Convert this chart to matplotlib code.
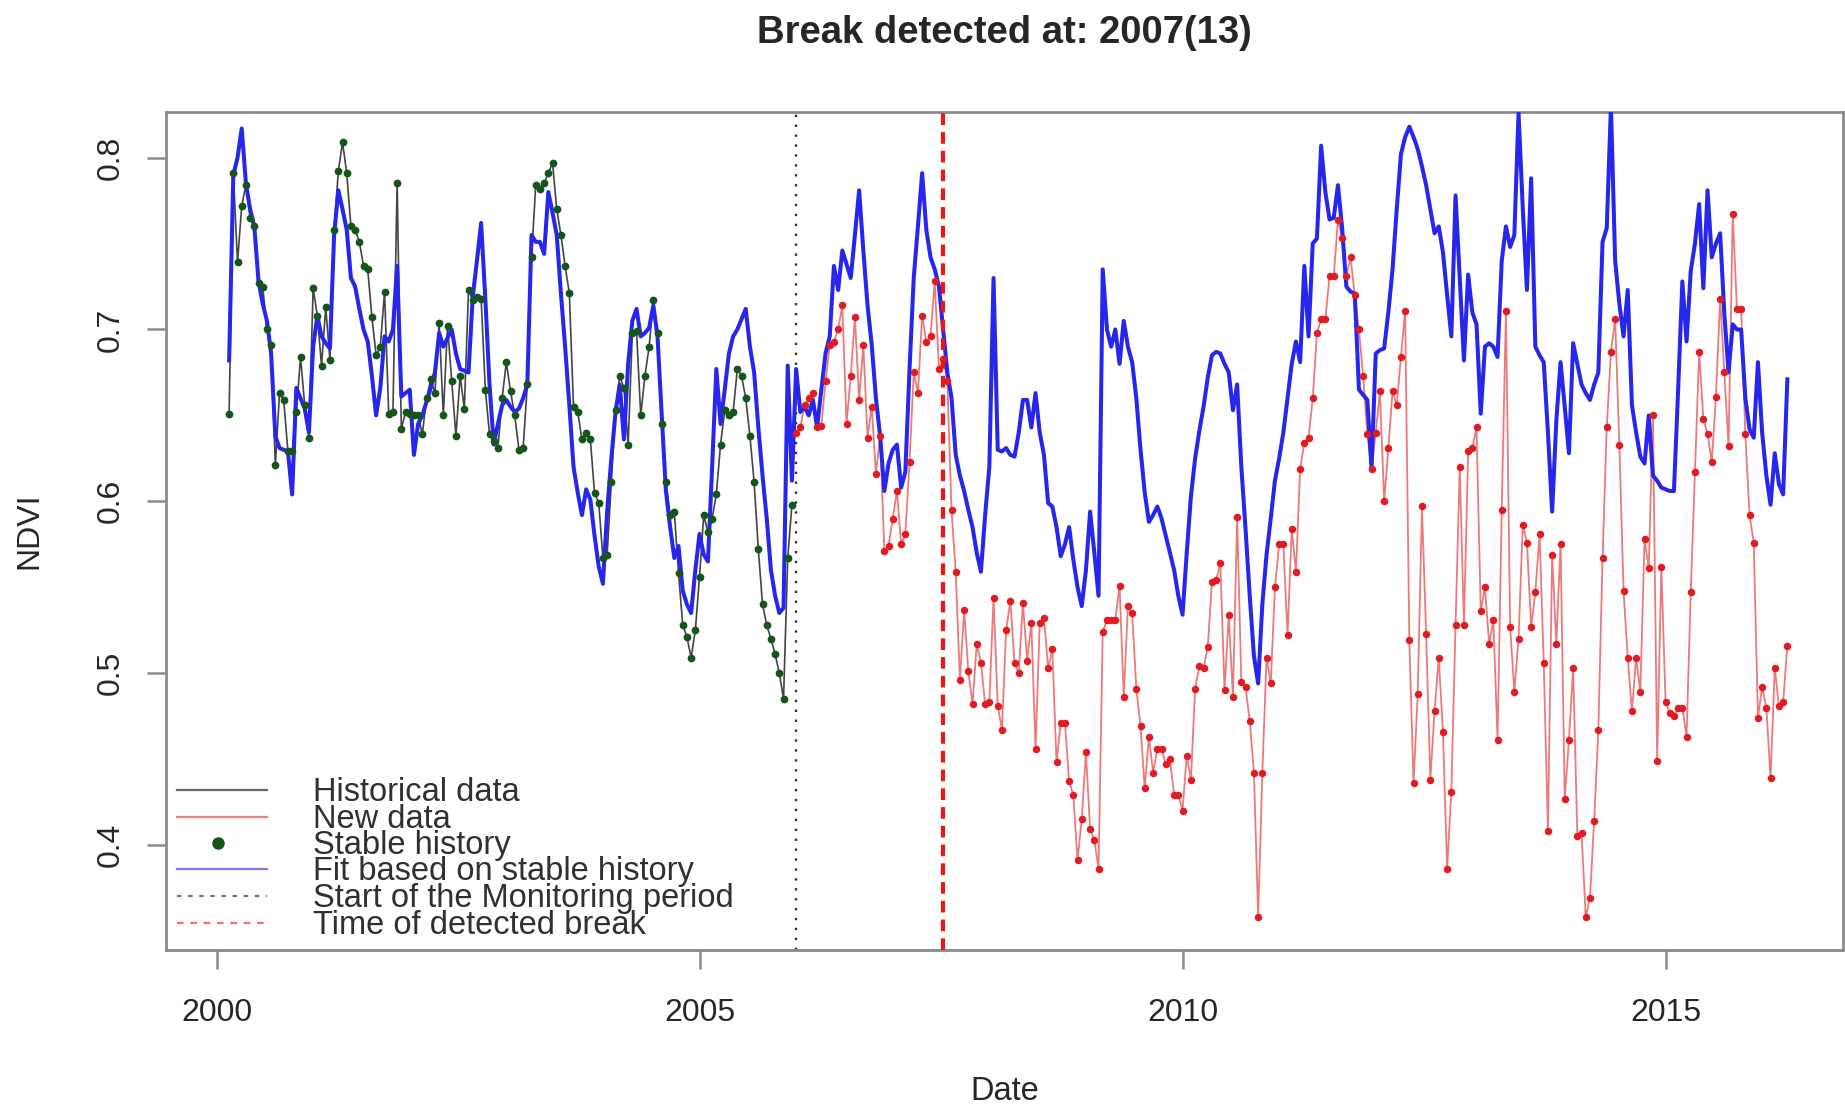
import numpy as np
import matplotlib
matplotlib.use("Agg")
import matplotlib.pyplot as plt

plt.rcParams['font.family'] = ['Liberation Sans', 'DejaVu Sans']

# 16-day NDVI series: 23 observations per year, first observation 2000(4)
freq = 23
start_year, start_period = 2000, 4
monitor_start = 2006.0
break_year, break_period = 2007, 13
title = "Break detected at: 2007(13)"

# historical period (2000(4) .. 2005(23)), all of it stable history
history = [
    0.651, 0.791, 0.739, 0.772, 0.784, 0.765, 0.760, 0.727, 0.725, 0.700,
    0.691, 0.621, 0.663, 0.659, 0.629, 0.629, 0.652, 0.684, 0.656, 0.637,
    0.724, 0.708, 0.679, 0.713, 0.682, 0.758, 0.792, 0.809, 0.791, 0.760,
    0.758, 0.751, 0.737, 0.735, 0.707, 0.685, 0.690, 0.722, 0.651, 0.652,
    0.785, 0.642, 0.652, 0.651, 0.650, 0.650, 0.639, 0.660, 0.671, 0.663,
    0.704, 0.650, 0.702, 0.670, 0.638, 0.673, 0.654, 0.723, 0.717, 0.719,
    0.718, 0.665, 0.639, 0.635, 0.631, 0.660, 0.681, 0.664, 0.650, 0.630,
    0.631, 0.668, 0.742, 0.784, 0.782, 0.785, 0.791, 0.797, 0.770, 0.755,
    0.737, 0.721, 0.655, 0.652, 0.636, 0.640, 0.636, 0.605, 0.599, 0.567,
    0.569, 0.611, 0.653, 0.673, 0.666, 0.633, 0.698, 0.699, 0.650, 0.673,
    0.690, 0.717, 0.698, 0.645, 0.611, 0.592, 0.594, 0.558, 0.528, 0.521,
    0.509, 0.525, 0.556, 0.592, 0.582, 0.590, 0.604, 0.633, 0.653, 0.650,
    0.652, 0.677, 0.673, 0.660, 0.638, 0.611, 0.572, 0.540, 0.528, 0.520,
    0.511, 0.500, 0.485, 0.567, 0.598,
]

# monitoring period (2006(1) .. 2016(7))
new_data = [
    0.640, 0.643, 0.656, 0.660, 0.663, 0.643, 0.644, 0.670, 0.691, 0.693,
    0.700, 0.714, 0.645, 0.673, 0.707, 0.659, 0.691, 0.637, 0.655, 0.616,
    0.638, 0.571, 0.574, 0.590, 0.606, 0.575, 0.581, 0.623, 0.675, 0.663,
    0.708, 0.693, 0.696, 0.728, 0.677, 0.683, 0.670, 0.595, 0.559, 0.496,
    0.537, 0.501, 0.482, 0.517, 0.506, 0.482, 0.483, 0.544, 0.481, 0.467,
    0.525, 0.542, 0.506, 0.500, 0.541, 0.507, 0.529, 0.456, 0.529, 0.532,
    0.503, 0.514, 0.448, 0.471, 0.471, 0.437, 0.429, 0.391, 0.415, 0.454,
    0.409, 0.403, 0.386, 0.524, 0.531, 0.531, 0.531, 0.551, 0.486, 0.539,
    0.535, 0.491, 0.469, 0.433, 0.463, 0.442, 0.456, 0.456, 0.447, 0.450,
    0.429, 0.429, 0.420, 0.452, 0.438, 0.491, 0.504, 0.503, 0.515, 0.553,
    0.554, 0.564, 0.490, 0.534, 0.486, 0.591, 0.495, 0.492, 0.472, 0.442,
    0.358, 0.442, 0.509, 0.494, 0.550, 0.575, 0.575, 0.522, 0.584, 0.559,
    0.619, 0.634, 0.637, 0.660, 0.698, 0.706, 0.706, 0.731, 0.731, 0.764,
    0.753, 0.731, 0.742, 0.720, 0.700, 0.673, 0.639, 0.619, 0.640, 0.664,
    0.600, 0.631, 0.664, 0.656, 0.684, 0.711, 0.519, 0.436, 0.488, 0.597,
    0.523, 0.438, 0.478, 0.509, 0.466, 0.386, 0.431, 0.528, 0.620, 0.528,
    0.629, 0.631, 0.643, 0.536, 0.550, 0.517, 0.531, 0.461, 0.595, 0.711,
    0.527, 0.489, 0.520, 0.586, 0.576, 0.527, 0.547, 0.581, 0.506, 0.408,
    0.569, 0.517, 0.575, 0.427, 0.461, 0.503, 0.405, 0.407, 0.358, 0.369,
    0.414, 0.467, 0.567, 0.643, 0.687, 0.706, 0.633, 0.548, 0.509, 0.478,
    0.509, 0.489, 0.578, 0.561, 0.650, 0.449, 0.562, 0.483, 0.477, 0.475,
    0.480, 0.480, 0.463, 0.547, 0.617, 0.687, 0.648, 0.639, 0.623, 0.661,
    0.718, 0.675, 0.632, 0.767, 0.712, 0.712, 0.639, 0.592, 0.576, 0.474,
    0.492, 0.480, 0.439, 0.503, 0.481, 0.483, 0.516,
]

# model fitted on the stable history, over the full series
fit = [
    0.682, 0.790, 0.800, 0.817, 0.785, 0.770, 0.760, 0.728, 0.715, 0.705,
    0.686, 0.638, 0.631, 0.630, 0.629, 0.604, 0.666, 0.660, 0.654, 0.640,
    0.690, 0.708, 0.696, 0.692, 0.689, 0.755, 0.781, 0.770, 0.758, 0.730,
    0.725, 0.712, 0.700, 0.693, 0.673, 0.650, 0.666, 0.696, 0.693, 0.700,
    0.737, 0.661, 0.663, 0.665, 0.627, 0.645, 0.650, 0.658, 0.666, 0.675,
    0.698, 0.690, 0.695, 0.700, 0.686, 0.677, 0.676, 0.675, 0.719, 0.740,
    0.762, 0.718, 0.668, 0.633, 0.645, 0.656, 0.659, 0.655, 0.652, 0.654,
    0.660, 0.668, 0.755, 0.751, 0.751, 0.744, 0.780, 0.768, 0.755, 0.721,
    0.690, 0.656, 0.620, 0.605, 0.592, 0.607, 0.601, 0.580, 0.562, 0.552,
    0.594, 0.625, 0.652, 0.668, 0.636, 0.680, 0.705, 0.712, 0.696, 0.698,
    0.701, 0.714, 0.696, 0.650, 0.606, 0.585, 0.567, 0.574, 0.548, 0.540,
    0.535, 0.560, 0.581, 0.569, 0.565, 0.620, 0.677, 0.645, 0.665, 0.686,
    0.696, 0.700, 0.706, 0.712, 0.690, 0.675, 0.643, 0.615, 0.590, 0.560,
    0.545, 0.535, 0.538, 0.679, 0.612,
    0.677, 0.652, 0.655, 0.650, 0.659, 0.643, 0.665, 0.686, 0.696, 0.737,
    0.723, 0.746, 0.738, 0.730, 0.755, 0.781, 0.746, 0.714, 0.691, 0.660,
    0.638, 0.606, 0.622, 0.630, 0.633, 0.608, 0.617, 0.677, 0.730, 0.760,
    0.791, 0.758, 0.742, 0.735, 0.725, 0.700, 0.675, 0.660, 0.627, 0.615,
    0.606, 0.595, 0.585, 0.570, 0.559, 0.592, 0.620, 0.730, 0.630, 0.629,
    0.631, 0.627, 0.626, 0.640, 0.659, 0.659, 0.643, 0.663, 0.640, 0.627,
    0.599, 0.597, 0.585, 0.568, 0.575, 0.585, 0.566, 0.550, 0.539, 0.560,
    0.594, 0.570, 0.545, 0.735, 0.700, 0.690, 0.700, 0.680, 0.705, 0.690,
    0.681, 0.660, 0.630, 0.605, 0.588, 0.592, 0.597, 0.590, 0.580, 0.570,
    0.560, 0.545, 0.534, 0.570, 0.603, 0.625, 0.641, 0.655, 0.672, 0.685,
    0.687, 0.686, 0.680, 0.675, 0.653, 0.668, 0.620, 0.584, 0.545, 0.510,
    0.494, 0.540, 0.569, 0.590, 0.612, 0.625, 0.640, 0.660, 0.680, 0.693,
    0.681, 0.737, 0.696, 0.750, 0.753, 0.807, 0.780, 0.764, 0.765, 0.784,
    0.759, 0.725, 0.722, 0.721, 0.665, 0.662, 0.659, 0.619, 0.686, 0.688,
    0.689, 0.710, 0.735, 0.770, 0.802, 0.812, 0.818, 0.812, 0.805, 0.795,
    0.784, 0.770, 0.756, 0.760, 0.745, 0.720, 0.696, 0.778, 0.730, 0.682,
    0.732, 0.710, 0.703, 0.651, 0.690, 0.692, 0.690, 0.684, 0.740, 0.760,
    0.748, 0.755, 0.826, 0.771, 0.723, 0.788, 0.690, 0.685, 0.681, 0.640,
    0.594, 0.647, 0.681, 0.655, 0.628, 0.692, 0.680, 0.668, 0.663, 0.659,
    0.668, 0.675, 0.751, 0.759, 0.830, 0.740, 0.715, 0.696, 0.723, 0.656,
    0.640, 0.626, 0.622, 0.650, 0.615, 0.612, 0.608, 0.607, 0.606, 0.606,
    0.665, 0.728, 0.693, 0.734, 0.750, 0.773, 0.724, 0.781, 0.742, 0.750,
    0.756, 0.709, 0.675, 0.703, 0.700, 0.700, 0.660, 0.642, 0.637, 0.681,
    0.640, 0.615, 0.598, 0.628, 0.610, 0.604, 0.671,
]

x_ticks = [2000, 2005, 2010, 2015]
y_ticks = [0.4, 0.5, 0.6, 0.7, 0.8]

legend_labels = ["Historical data", "New data", "Stable history",
                 "Fit based on stable history",
                 "Start of the Monitoring period", "Time of detected break"]

# time axis of the regular 16-day series
n_obs = len(history) + len(new_data)
time = start_year + (start_period - 1 + np.arange(n_obs)) / freq
t_hist = time[:len(history)]
t_new = time[len(history):]
break_time = break_year + (break_period - 1) / freq

TXT = '#262626'
FRAME = '#8a8a8a'
C_HIST = '#444444'
C_GREEN = '#14561a'
C_RED = '#e01c22'
C_RED_LINE = '#ec7a7a'
C_BLUE = '#2626ec'

fig = plt.figure(figsize=(18.45, 11.06), dpi=100)
ax = fig.add_axes([166 / 1845, 1 - 949.6 / 1106, 1677 / 1845, 837.8 / 1106])

ax.plot(t_hist, history, color=C_HIST, lw=1.2, zorder=2)
ax.plot(t_new, new_data, color=C_RED_LINE, lw=1.3, zorder=2)
ax.plot(time, fit, color=C_BLUE, lw=2.9, zorder=3)
ax.plot(t_new, new_data, ls='none', marker='o', ms=5.4, mec='none',
        color=C_RED, zorder=4)
ax.plot(t_hist, history, ls='none', marker='o', ms=5.6, mec='none',
        color=C_GREEN, zorder=4)

ax.axvline(monitor_start, color='#333333', ls=(0, (1, 3.2)), lw=1.7, zorder=2)
ax.axvline(break_time, color='#ee1515', ls=(0, (2.8, 1.7)), lw=3.0, zorder=5)

ax.set_xlim(1999.477, 2016.837)
ax.set_ylim(0.3391, 0.8267)

ax.set_xticks(x_ticks)
ax.set_xticklabels([str(v) for v in x_ticks])
ax.set_yticks(y_ticks)
ax.set_yticklabels([f"{v:.1f}" for v in y_ticks], rotation=90, va='center')
ax.tick_params(axis='both', length=14, width=1.8, color=FRAME,
               labelsize=23, labelcolor=TXT)
ax.tick_params(axis='x', pad=21)
ax.tick_params(axis='y', pad=15)
for sp in ax.spines.values():
    sp.set_color(FRAME)
    sp.set_linewidth(2.0)

ax.set_xlabel("Date", fontsize=23.5, color=TXT)
ax.xaxis.label.set_va('center')
ax.xaxis.set_label_coords(0.5, (949.6 - 1091.5) / 837.8)
ax.set_ylabel("NDVI", fontsize=23, color=TXT)
ax.yaxis.label.set_va('center')
ax.yaxis.set_label_coords((29 - 166) / 1677, 0.5)

ax.text(0.5, (949.6 - 33) / 837.8, title, transform=ax.transAxes,
        ha='center', va='center', fontsize=27.5, fontweight='bold', color=TXT)

# legend without frame, entries packed tightly as in base R graphics
rows = [0.1905, 0.1584, 0.1274, 0.0964, 0.0640, 0.0318]
lx0, lx1, ltx = 0.0066, 0.0602, 0.0877
styles = [
    dict(color='#666666', lw=1.6, ls='-'),
    dict(color='#ef7f7f', lw=1.6, ls='-'),
    None,
    dict(color='#7a7ae8', lw=1.6, ls='-'),
    dict(color='#777777', lw=1.6, ls=(0, (2, 3))),
    dict(color='#ee7070', lw=1.6, ls=(0, (3, 3))),
]
for yrow, lab, st in zip(rows, legend_labels, styles):
    if st is None:
        ax.plot([0.031], [yrow], transform=ax.transAxes, marker='o', ms=9,
                mec='none', color=C_GREEN, ls='none')
    else:
        ax.plot([lx0, lx1], [yrow, yrow], transform=ax.transAxes, **st)
    ax.text(ltx, yrow - 0.003, lab, transform=ax.transAxes, ha='left',
            va='center', fontsize=23.5, color='#303030')

fig.savefig("out.png", dpi=100)
